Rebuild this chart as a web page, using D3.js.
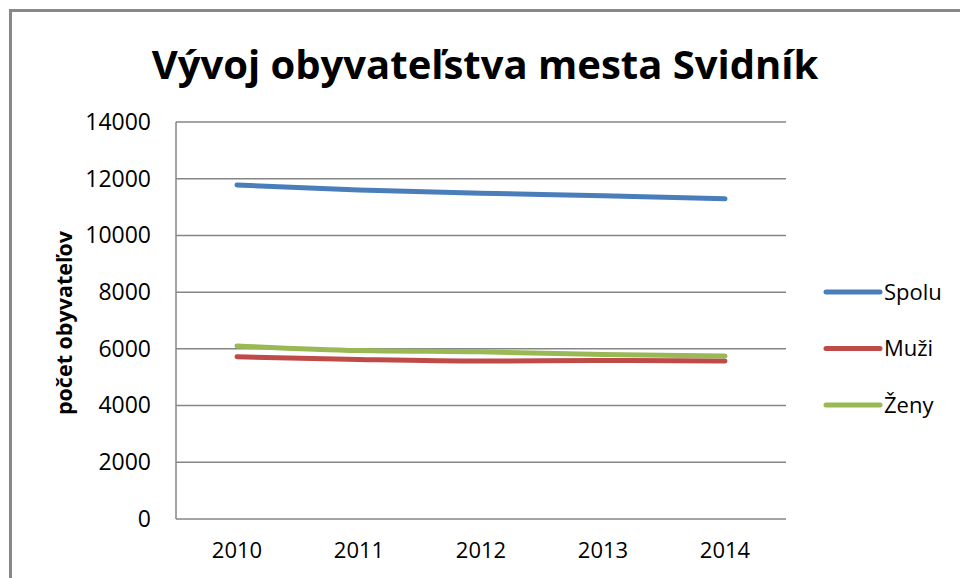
<!DOCTYPE html>
<html>
<head>
<meta charset="utf-8">
<script src="https://cdn.jsdelivr.net/npm/d3@7"></script>
<style>
	body { margin: 0; background: #fff; }
	svg { display: block; font-family: "Open Sans", "Noto Sans", sans-serif; }
</style>
</head>
<body>
<svg id="chart"></svg>
<script>
const years = ["2010", "2011", "2012", "2013", "2014"]
const spolu = [11780, 11600, 11490, 11400, 11290]
const muzi = [5720, 5625, 5570, 5590, 5570]
const zeny = [6105, 5940, 5895, 5800, 5745]
const yTicks = [0, 2000, 4000, 6000, 8000, 10000, 12000, 14000]

const series = [
	{ name: "Spolu", values: spolu, color: "#4a7ebb" },
	{ name: "Muži", values: muzi, color: "#be4b48" },
	{ name: "Ženy", values: zeny, color: "#98b954" }
]

const viewWidth = 960
const viewHeight = 578
const margin = { top: 122, right: 174, bottom: 59, left: 176 }
const width = viewWidth - margin.left - margin.right
const height = viewHeight - margin.top - margin.bottom

const root = d3.select("#chart")
	.attr("width", viewWidth)
	.attr("height", viewHeight)

// outer frame (only top and left edges are visible)
root.append("path")
	.attr("d", "M10.5,578V10.5H960")
	.attr("fill", "none")
	.attr("stroke", "#888")
	.attr("stroke-width", 3)

root.append("text")
	.attr("x", 485)
	.attr("y", 79)
	.attr("text-anchor", "middle")
	.style("font-size", "40px")
	.style("font-weight", "bold")
	.text("Vývoj obyvateľstva mesta Svidník")

const svg = root.append("g")
	.attr("transform", "translate(" + margin.left + "," + margin.top + ")")

const x = d3.scaleBand()
	.domain(years)
	.range([0, width])

const y = d3.scaleLinear()
	.domain([0, 14000])
	.range([height, 0])

svg.append("g")
	.selectAll("line")
	.data(yTicks)
	.enter()
	.append("line")
	.attr("x1", 0)
	.attr("x2", width)
	.attr("y1", d => y(d))
	.attr("y2", d => y(d))
	.attr("stroke", "#868686")
	.attr("stroke-width", 1.5)

svg.append("line")
	.attr("x1", 0)
	.attr("x2", 0)
	.attr("y1", 0)
	.attr("y2", height)
	.attr("stroke", "#868686")
	.attr("stroke-width", 1.5)

const yAxis = svg.append("g")
	.call(d3.axisLeft(y).tickValues(yTicks).tickSize(0).tickPadding(25).tickFormat(d3.format("d")))
yAxis.select(".domain").remove()
yAxis.selectAll("text")
	.style("font-size", "23px")
	.style("font-family", "'Open Sans', sans-serif")
	.attr("fill", "#000")

const xAxis = svg.append("g")
	.attr("transform", "translate(0," + height + ")")
	.call(d3.axisBottom(x).tickSize(0).tickPadding(23))
xAxis.select(".domain").remove()
xAxis.selectAll("text")
	.style("font-size", "22px")
	.style("font-family", "'Open Sans', sans-serif")
	.attr("fill", "#000")

svg.append("text")
	.attr("transform", "rotate(-90)")
	.attr("x", -(323 - margin.top))
	.attr("y", -margin.left + 72)
	.attr("text-anchor", "middle")
	.style("font-size", "21.5px")
	.style("font-weight", "bold")
	.text("počet obyvateľov")

const line = d3.line()
	.x((d, i) => x(years[i]) + x.bandwidth() / 2)
	.y(d => y(d))
	.curve(d3.curveMonotoneX)

svg.selectAll("path.series")
	.data(series)
	.enter()
	.append("path")
	.attr("class", "series")
	.attr("fill", "none")
	.attr("stroke", d => d.color)
	.attr("stroke-width", 5)
	.attr("stroke-linecap", "round")
	.attr("d", d => line(d.values))

const legend = root.append("g")
	.attr("transform", "translate(826,292)")

legend.selectAll("line")
	.data(series)
	.enter()
	.append("line")
	.attr("x1", 0)
	.attr("x2", 54)
	.attr("y1", (d, i) => i * 56.5)
	.attr("y2", (d, i) => i * 56.5)
	.attr("stroke", d => d.color)
	.attr("stroke-width", 5)
	.attr("stroke-linecap", "round")

legend.selectAll("text")
	.data(series)
	.enter()
	.append("text")
	.attr("x", 58)
	.attr("y", (d, i) => i * 56.5)
	.attr("dy", "0.35em")
	.style("font-size", "22px")
	.text(d => d.name)
</script>
</body>
</html>
